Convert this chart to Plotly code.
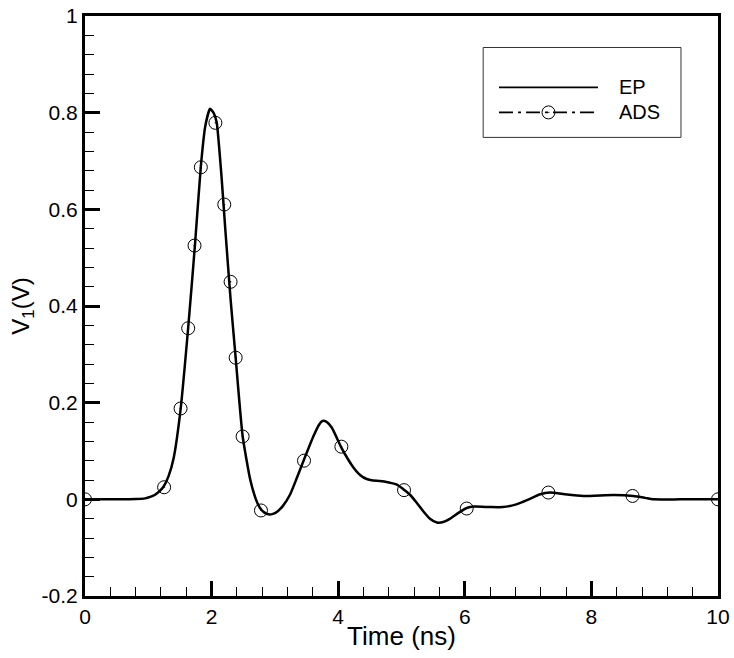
import plotly.graph_objects as go

# EP curve
ep_t = [0, 0.5, 0.8, 0.95, 1.03, 1.10, 1.17, 1.24, 1.32, 1.40, 1.51, 1.63, 1.74, 1.83, 1.90, 1.975,
        2.03, 2.08, 2.16, 2.22, 2.30, 2.38, 2.49, 2.61, 2.70, 2.76, 2.83, 2.90, 2.97, 3.05, 3.13, 3.24,
        3.34, 3.45, 3.61, 3.70, 3.75, 3.81, 3.90, 4.05, 4.15, 4.24, 4.35, 4.45, 4.55, 4.66, 4.80, 4.92,
        5.02, 5.13, 5.24, 5.34, 5.45, 5.56, 5.66, 5.77, 5.90, 6.03, 6.15, 6.40, 6.60, 6.80, 6.92, 7.03,
        7.18, 7.35, 7.55, 7.87, 8.35, 8.66, 8.85, 8.98, 9.40, 10.0]
ep_v = [0, 0, 0.0005, 0.002, 0.005, 0.009, 0.016, 0.026, 0.048, 0.085, 0.186, 0.355, 0.531, 0.689, 0.772, 0.808,
        0.800, 0.780, 0.662, 0.552, 0.414, 0.293, 0.131, 0.041, 0.000, -0.017, -0.027, -0.031, -0.030, -0.024, -0.013, 0.010,
        0.042, 0.079, 0.131, 0.155, 0.162, 0.161, 0.148, 0.107, 0.084, 0.066, 0.050, 0.042, 0.039, 0.038, 0.035, 0.031,
        0.022, 0.010, -0.007, -0.024, -0.040, -0.048, -0.047, -0.040, -0.028, -0.018, -0.015, -0.016, -0.016, -0.011, -0.005, 0.001,
        0.010, 0.014, 0.011, 0.007, 0.009, 0.007, 0.003, 0.0, 0.0, 0.0]

# ADS samples
ads_t = [0, 1.25, 1.51, 1.63, 1.73, 1.83, 2.06, 2.20, 2.30, 2.38, 2.49, 2.78, 3.46, 4.05,
         5.04, 6.03, 7.32, 8.65, 10.0]
ads_v = [0, 0.025, 0.188, 0.354, 0.525, 0.687, 0.779, 0.610, 0.450, 0.293, 0.130, -0.023,
         0.080, 0.109, 0.019, -0.019, 0.014, 0.007, 0.0]

x_ticks = [0, 2, 4, 6, 8, 10]
y_ticks = [-0.2, 0, 0.2, 0.4, 0.6, 0.8, 1]
y_ticktext = ["-0.2", "0", "0.2", "0.4", "0.6", "0.8", "1"]

FONT = "Liberation Sans, Arial, sans-serif"

fig = go.Figure()
fig.add_trace(go.Scatter(x=ep_t, y=ep_v, mode="lines", name="EP",
                         line=dict(color="black", width=2.5, shape="spline", smoothing=0.5),
                         showlegend=False))
fig.add_trace(go.Scatter(x=ads_t, y=ads_v, mode="markers", name="ADS",
                         marker=dict(symbol="circle-open-dot", size=13, color="black",
                                     line=dict(color="black", width=1)),
                         showlegend=False))

# manual legend on an overlay axis (paper-like 0..1)
fig.add_trace(go.Scatter(x=[0.654, 0.8104], y=[0.8768, 0.8768], mode="lines",
                         line=dict(color="black", width=1.8), xaxis="x2", yaxis="y2",
                         showlegend=False, hoverinfo="skip"))
fig.add_trace(go.Scatter(x=[0.654, 0.8104], y=[0.8338, 0.8338], mode="lines",
                         line=dict(color="black", width=1.8, dash="14px,5px,3px,5px"),
                         xaxis="x2", yaxis="y2", showlegend=False, hoverinfo="skip"))
fig.add_trace(go.Scatter(x=[0.7322], y=[0.8338], mode="markers",
                         marker=dict(symbol="circle-open-dot", size=13, color="black",
                                     line=dict(color="black", width=1)),
                         xaxis="x2", yaxis="y2", showlegend=False, hoverinfo="skip"))

fig.add_shape(type="rect", xref="paper", yref="paper", x0=0.629, x1=0.9415, y0=0.7907, y1=0.9457,
              line=dict(color="#333", width=1), fillcolor="rgba(0,0,0,0)", layer="below")
fig.add_annotation(xref="paper", yref="paper", x=0.8404, y=0.8768, text="EP", showarrow=False,
                   xanchor="left", yanchor="middle", font=dict(family=FONT, size=20, color="black"))
fig.add_annotation(xref="paper", yref="paper", x=0.8404, y=0.8338, text="ADS", showarrow=False,
                   xanchor="left", yanchor="middle", font=dict(family=FONT, size=20, color="black"))

fig.update_layout(
    width=734, height=658,
    margin=dict(l=85, r=16, t=16, b=62),
    paper_bgcolor="white", plot_bgcolor="white",
    font=dict(family=FONT, color="black"),
    xaxis=dict(range=[0, 10], tickvals=x_ticks, ticks="inside", ticklen=15, tickwidth=3,
               tickcolor="black", showline=True, linewidth=3, linecolor="black", mirror=True,
               showgrid=False, zeroline=False, tickfont=dict(size=21), automargin=False,
               minor=dict(dtick=0.4, ticks="inside", ticklen=9, tickwidth=1.2, tickcolor="black"),
               title=dict(text="Time (ns)", font=dict(size=26), standoff=0)),
    yaxis=dict(range=[-0.2, 1], tickvals=y_ticks, ticktext=y_ticktext, ticks="inside", ticklen=15,
               tickwidth=3, tickcolor="black", showline=True, linewidth=3, linecolor="black",
               mirror=True, showgrid=False, zeroline=False, tickfont=dict(size=21), automargin=False,
               minor=dict(dtick=0.04, ticks="inside", ticklen=9, tickwidth=1.2, tickcolor="black"),
               title=dict(text="V<sub>1</sub>(V)", font=dict(size=24), standoff=6)),
    xaxis2=dict(domain=[0, 1], range=[0, 1], visible=False, overlaying="x", anchor="y2"),
    yaxis2=dict(domain=[0, 1], range=[0, 1], visible=False, overlaying="y", anchor="x2"),
)

fig.write_html("out.html")
